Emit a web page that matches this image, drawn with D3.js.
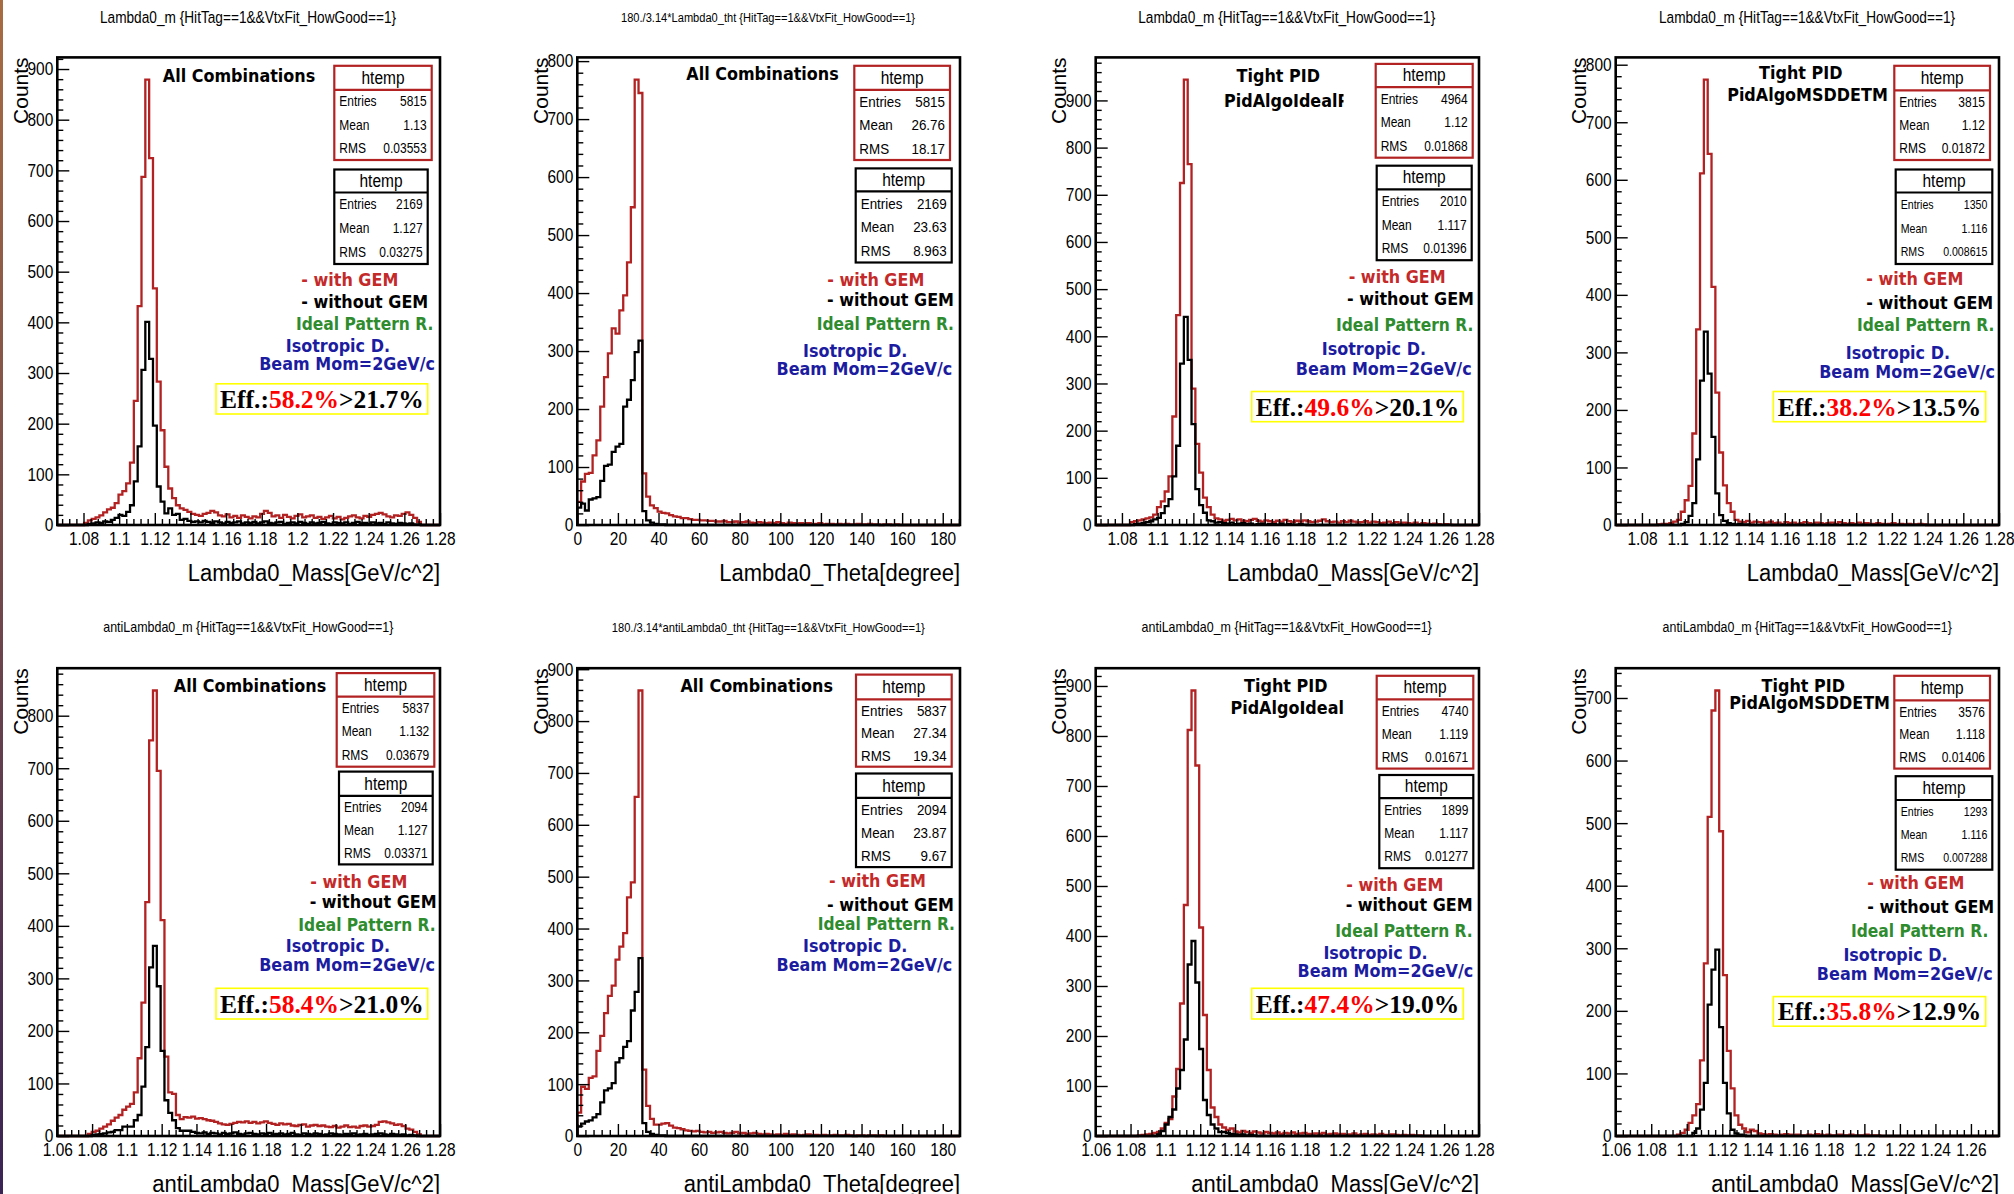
<!DOCTYPE html>
<html>
<head>
<meta charset="utf-8">
<script src="https://cdnjs.cloudflare.com/ajax/libs/d3/7.8.5/d3.min.js"></script>
<style>
  body { margin: 0; background: #fff; }
  svg { display: block; }
</style>
</head>
<body>
<svg id="chart"></svg>
<script>
// Bin contents (100 bins per histogram).
// Missing trailing bins are empty.
var nBins = 100;

// Lambda0 mass, all combinations
var lamAllGem = [0,0,0,0,0,0,0,4,9,12, 15,19,25,31,34,43,60,67,82,123,
  245,432,687,879,724,467,283,187,115,72, 53,39,33,30,26,22,20,18,22,24,
  28,25,19,17,21,15,18,14,19,16, 13,17,15,22,28,24,17,19,14,20,
  16,13,18,21,15,17,19,14,16,12, 15,18,13,16,11,14,17,19,15,13,
  18,16,20,22,24,21,17,15,19,18, 22,25,20,14,6];
var lamAllNoGem = [0,0,0,0,0,0,0,0,2,3, 5,4,7,6,10,14,20,18,26,39,
  86,155,306,401,328,196,76,46,23,33, 20,22,10,12,8,6,7,5,8,6,
  4,7,5,3,6,4,5,7,3,5, 4,6,3,5,7,4,3,5,6,2,
  4,5,3,6,4,2,5,3,4,6, 3,2,5,4,3,5,2,4,6,3,
  4,2,5,3,4,2,5,3,2,4, 3,2,3,1,1];

// Lambda0 theta, all combinations
var thtAllGem = [40,75,88,90,120,146,204,255,296,339, 330,370,396,453,548,768,745,89,49,34,
  29,23,21,20,17,15,14,12,12,10, 9,9,8,8,7,7,6,6,7,5,
  5,6,4,5,6,4,3,5,4,3, 4,3,5,3,2,4,3,2,3,2,
  3,2,2,3,1,2,2,1,2,1, 2,1,1,2,1,1,2,1,1,0, 1,1,0,1];
var thtAllNoGem = [30,37,25,44,46,48,76,102,104,126, 135,140,204,216,250,298,318,24,8,4, 2,1,1];

// Lambda0 mass, tight PID (ideal)
var lamIdGem = [0,0,0,0,0,0,0,0,0,6, 8,10,12,14,16,22,38,50,71,103,
  230,445,725,944,765,289,172,111,58,38, 22,14,12,9,11,13,10,12,9,8,
  11,13,9,7,10,8,6,9,7,11, 8,6,9,7,10,8,6,7,9,12,
  8,6,7,5,8,6,9,7,5,6, 8,5,7,6,4,5,7,4,6,3,
  5,4,3,5,2,4,3,2,3,2, 1,2,1];
var lamIdNoGem = [0,0,0,0,0,0,0,0,0,0, 2,3,4,6,8,12,15,25,40,55,
  103,168,342,441,350,214,76,42,26,10, 8,5,6,4,3,5,2,3,4,2,
  3,1,2,3,1,2,2,1,3,1, 2,1,1,2,1];

// Lambda0 mass, tight PID (MSDDETM)
var lamMsGem = [0,0,0,0,0,0,0,0,0,0, 0,1,2,2,3,6,9,23,43,68,
  159,340,611,774,645,414,230,126,69,38, 23,9,6,5,7,4,6,5,3,4,
  6,3,4,2,5,3,4,2,3,5, 3,2,4,3,2,3,4,2,5,3,
  2,3,2,4,2,3,1,2,3,2, 1,2,3,1,2,1,2,1,1,2, 1];
var lamMsNoGem = [0,0,0,0,0,0,0,0,0,0, 0,0,0,0,0,0,0,2,5,16,
  38,114,251,336,263,153,55,17,7,3, 2,1,2,1,1];

// antiLambda0 mass, all combinations
var antiAllGem = [0,0,0,0,0,0,0,0,4,8, 10,14,18,22,29,35,40,50,56,61,
  83,148,254,445,753,848,695,411,151,83, 80,40,32,36,35,37,33,34,32,30,
  29,27,24,22,21,23,25,27,26,28, 25,27,24,26,28,25,23,21,24,22,
  23,20,19,21,22,18,20,21,19,20, 18,17,19,16,18,20,17,18,16,19,
  20,18,19,21,27,28,26,24,21,22, 19,14,12,8,3];
var antiAllNoGem = [0,0,0,0,0,0,0,0,0,2, 3,4,5,7,8,11,11,18,18,18,
  30,40,94,169,321,362,285,162,68,44, 30,15,10,10,10,8,6,5,7,4,
  6,5,3,6,4,5,7,4,3,5, 6,4,3,5,4,6,3,4,5,3,
  4,6,3,2,5,4,3,5,4,2, 3,5,4,3,2,4,3,5,2,3,
  4,2,3,4,5,3,2,4,3,2, 3,1,2,1];

// antiLambda0 theta, all combinations
var thtAntiGem = [45,95,91,112,115,164,193,237,270,290, 340,365,391,460,489,654,859,128,58,33,
  22,22,24,25,20,16,15,13,11,10, 9,10,8,7,8,6,7,8,6,5,
  6,8,5,6,4,5,6,4,3,4, 3,2,3,2,4,2,3,2,1,2,
  3,1,2,1,2,1,1,2,1,1, 2,1,0,1,1,0,1,1,0,1];
var thtAntiNoGem = [18,24,28,30,36,42,65,88,92,102, 142,150,172,183,242,278,343,25,8,4, 2,1,1];

// antiLambda0 mass, tight PID (ideal)
var antiIdGem = [0,0,0,0,0,0,0,0,0,0, 0,1,2,3,4,6,8,15,26,34,
  79,134,265,462,812,891,741,417,242,132, 57,38,23,17,12,15,9,7,10,8,
  6,9,7,5,8,6,5,7,4,6, 5,7,4,5,6,4,3,5,4,6,
  3,4,5,3,4,2,3,5,2,3, 4,2,3,2,4,2,1,3,2,1, 2,1,2,1,1];
var antiIdNoGem = [0,0,0,0,0,0,0,0,0,0, 0,0,0,0,0,0,3,10,23,38,
  53,95,132,193,343,390,307,174,72,42, 23,15,8,8,6,4,3,2,3,1, 2,1];

// antiLambda0 mass, tight PID (MSDDETM)
var antiMsGem = [0,0,0,0,0,0,0,0,0,0, 0,0,0,0,0,0,2,5,10,21,
  33,51,121,276,510,680,712,487,257,136, 76,33,18,12,6,10,8,4,3,2,
  3,2,1,2,3,2,1,2,1,1, 2,1,3,2,1,2,1,1,2,1, 1,2,1,1,1,2,1,1,1];
var antiMsNoGem = [0,0,0,0,0,0,0,0,0,0, 0,0,0,0,0,0,0,0,0,0,
  5,12,42,85,210,266,298,174,85,36, 10,4,2,1];

// Histogram x ranges
var massTop = [1.0653, 1.28];
var massAnti = [1.06, 1.28];
var massAnti8 = [1.06, 1.2758];
var thetaRange = [0, 188.5];

// Texts
var titles = [
  "Lambda0_m {HitTag==1&&VtxFit_HowGood==1}",
  "180./3.14*Lambda0_tht {HitTag==1&&VtxFit_HowGood==1}",
  "Lambda0_m {HitTag==1&&VtxFit_HowGood==1}",
  "Lambda0_m {HitTag==1&&VtxFit_HowGood==1}",
  "antiLambda0_m {HitTag==1&&VtxFit_HowGood==1}",
  "180./3.14*antiLambda0_tht {HitTag==1&&VtxFit_HowGood==1}",
  "antiLambda0_m {HitTag==1&&VtxFit_HowGood==1}",
  "antiLambda0_m {HitTag==1&&VtxFit_HowGood==1}"];
var xLabels = ["Lambda0_Mass[GeV/c^2]", "Lambda0_Theta[degree]", "Lambda0_Mass[GeV/c^2]", "Lambda0_Mass[GeV/c^2]",
  "antiLambda0_Mass[GeV/c^2]", "antiLambda0_Theta[degree]", "antiLambda0_Mass[GeV/c^2]", "antiLambda0_Mass[GeV/c^2]"];
var cutAll = ["All Combinations"];
var cutIdealClipped = ["Tight PID", "PidAlgoIdealP"];
var cutIdeal = ["Tight PID", "PidAlgoIdeal"];
var cutMs = ["Tight PID", "PidAlgoMSDDETM"];
var statNames = ["Entries", "Mean", "RMS"];
var statsGem = [
  ["5815", "1.13", "0.03553"], ["5815", "26.76", "18.17"], ["4964", "1.12", "0.01868"], ["3815", "1.12", "0.01872"],
  ["5837", "1.132", "0.03679"], ["5837", "27.34", "19.34"], ["4740", "1.119", "0.01671"], ["3576", "1.118", "0.01406"]];
var statsNoGem = [
  ["2169", "1.127", "0.03275"], ["2169", "23.63", "8.963"], ["2010", "1.117", "0.01396"], ["1350", "1.116", "0.008615"],
  ["2094", "1.127", "0.03371"], ["2094", "23.87", "9.67"], ["1899", "1.117", "0.01277"], ["1293", "1.116", "0.007288"]];
var effGem = ["58.2%", null, "49.6%", "38.2%", "58.4%", null, "47.4%", "35.8%"];
var effNoGem = ["21.7%", null, "20.1%", "13.5%", "21.0%", null, "19.0%", "12.9%"];
var legendText = ["- with GEM", "- without GEM", "Ideal Pattern R.", "Isotropic D.", "Beam Mom=2GeV/c"];

// Styles
var redLine = "#b22222";
var legendColor = ["#c42a2a", "#000", "#2e8b2e", "#1c1ca0", "#1c1ca0"];
var legendSize = [16, 16, 15.5, 16, 16];
var sansFont = "'Liberation Sans', Arial, sans-serif";
var boldFont = "'DejaVu Sans', Verdana, sans-serif";
var serifFont = "'Liberation Serif', 'Times New Roman', serif";
var sy = 1.15;

// Histograms per panel
var panels = [
  { gem: lamAllGem, noGem: lamAllNoGem, xr: massTop, theta: false, cuts: cutAll },
  { gem: thtAllGem, noGem: thtAllNoGem, xr: thetaRange, theta: true, cuts: cutAll },
  { gem: lamIdGem, noGem: lamIdNoGem, xr: massTop, theta: false, cuts: cutIdealClipped },
  { gem: lamMsGem, noGem: lamMsNoGem, xr: massTop, theta: false, cuts: cutMs },
  { gem: antiAllGem, noGem: antiAllNoGem, xr: massAnti, theta: false, cuts: cutAll },
  { gem: thtAntiGem, noGem: thtAntiNoGem, xr: thetaRange, theta: true, cuts: cutAll },
  { gem: antiIdGem, noGem: antiIdNoGem, xr: massAnti, theta: false, cuts: cutIdeal },
  { gem: antiMsGem, noGem: antiMsNoGem, xr: massAnti8, theta: false, cuts: cutMs }
];

// Positions of frames, boxes and labels (page pixels)
var topY = 57.4, topH = 467.6, botY = 668.2, botH = 467.8;
var layout = [
  { fx: 57.3, fw: 382.7, fy: topY, fh: topH, title: [248, 17.2, 296],
    cut: [[239, 75.4, "middle"]],
    red: [334.3, 65.8, 431.7, 160, 89.9], blk: [334.3, 169.5, 427.7, 264, 192.5], sfs: [12, 12],
    leg: [[398.3, 279.3], [428.3, 301.1], [433.3, 323.7], [390, 345.5], [435, 363.9]],
    eff: [216, 383.8, 427.7, 414] },
  { fx: 577.3, fw: 382.7, fy: topY, fh: topH, title: [768, 17.2, 294],
    cut: [[762.5, 73.9, "middle"]],
    red: [854.3, 65.8, 950, 160, 89.9], blk: [855.7, 168.4, 951.7, 262.5, 191.3], sfs: [13.4, 13.4],
    leg: [[924.3, 279.3], [954, 299.6], [954, 323.7], [907.3, 350.1], [952.3, 368.9]],
    eff: null },
  { fx: 1095.7, fw: 383.3, fy: topY, fh: topH, title: [1286.7, 17.2, 297],
    cut: [[1278.3, 75.4, "middle"], [1224, 100.6, "start", 1343.5]],
    red: [1375.7, 63.9, 1472.7, 157.7, 87.2], blk: [1376.7, 165.7, 1471.7, 260.2, 189.4], sfs: [12, 12],
    leg: [[1445.7, 276.7], [1474, 298.1], [1473.3, 324.9], [1426, 349], [1471.7, 368.1]],
    eff: [1251.7, 391.5, 1463.3, 421.7] },
  { fx: 1615.7, fw: 383.3, fy: topY, fh: topH, title: [1807, 17.2, 296],
    cut: [[1800.8, 72.7, "middle"], [1807.5, 94.1, "middle"]],
    red: [1894.3, 65.8, 1990, 160, 90.3], blk: [1895.7, 169.5, 1992.3, 264, 192.5], sfs: [12, 10.6],
    leg: [[1963.3, 278.2], [1993.3, 302.3], [1994.3, 324.9], [1950, 352.4], [1995, 371.2]],
    eff: [1773.3, 391.5, 1985.7, 421.7] },
  { fx: 57.3, fw: 382.7, fy: botY, fh: botH, title: [248.3, 627.3, 290],
    cut: [[250, 685.2, "middle"]],
    red: [336.7, 673.1, 434.3, 766.7, 696.6], blk: [339, 771.6, 432.7, 864.4, 795.9], sfs: [12, 12],
    leg: [[407.3, 881.5], [436.7, 901.9], [435.7, 924.7], [390, 945.9], [435, 964.8]],
    eff: [216, 988.3, 427.7, 1019] },
  { fx: 577.3, fw: 382.7, fy: botY, fh: botH, title: [768.3, 627.3, 313],
    cut: [[756.7, 685.2, "middle"]],
    red: [856, 674.6, 951.7, 766.7, 699.3], blk: [856, 773.5, 951.7, 867.1, 797.8], sfs: [13.4, 13.4],
    leg: [[926, 880.3], [954, 905], [955, 923.9], [907.3, 945.9], [952.3, 964.8]],
    eff: null },
  { fx: 1095.7, fw: 383.3, fy: botY, fh: botH, title: [1286.7, 627.3, 290],
    cut: [[1285.8, 685.2, "middle"], [1287.2, 708, "middle"]],
    red: [1376.7, 675.8, 1473.3, 768.6, 699.3], blk: [1379.3, 775, 1473.3, 868.2, 798.1], sfs: [12, 12],
    leg: [[1443.3, 884.1], [1472.7, 905], [1472.7, 930.7], [1427.7, 952.3], [1473.3, 970.5]],
    eff: [1251.7, 988.3, 1463.3, 1019] },
  { fx: 1615.7, fw: 383.3, fy: botY, fh: botH, title: [1807.2, 627.3, 289],
    cut: [[1803.3, 685.2, "middle"], [1809.7, 703, "middle"]],
    red: [1894.3, 675.8, 1990, 768.6, 700.4], blk: [1895.7, 776.2, 1992.3, 869.7, 800], sfs: [12, 10.6],
    leg: [[1964.3, 883], [1994.3, 906.9], [1988.3, 930.7], [1947.7, 955], [1992.7, 973.9]],
    eff: [1773.3, 996.6, 1985.7, 1026.2] }
];

var svg = d3.select("#chart").attr("width", 2014).attr("height", 1194);
svg.append("rect").attr("width", 2014).attr("height", 1194).attr("fill", "#fff");

// thin slide edge on the left
var grad = svg.append("defs").append("linearGradient").attr("id", "edge")
  .attr("x1", 0).attr("y1", 0).attr("x2", 0).attr("y2", 1);
grad.append("stop").attr("offset", "0%").attr("stop-color", "#a86c42");
grad.append("stop").attr("offset", "100%").attr("stop-color", "#3a2454");
svg.append("rect").attr("width", 3).attr("height", 1194).attr("fill", "url(#edge)");

// Text with the vertical stretch of the original canvas
function label(g, x, y, str, o) {
  return g.append("text")
    .attr("transform", "translate(" + x + "," + y + ") scale(1," + (o.sy || sy) + ")")
    .attr("text-anchor", o.anchor || "start")
    .attr("dominant-baseline", "central")
    .style("font-family", o.font || sansFont)
    .style("font-size", o.size + "px")
    .style("font-weight", o.weight || "normal")
    .attr("fill", o.color || "#000")
    .text(str);
}

function tickRange(lo, hi, step) {
  var a = Math.ceil(lo / step - 1e-6), b = Math.floor(hi / step + 1e-6);
  return d3.range(a, b + 1).map(function (k) { return +(k * step).toFixed(6); });
}

function drawHist(g, counts, x, y, lo, hi, color) {
  var w = (hi - lo) / nBins;
  var pts = [[lo, 0]];
  for (var i = 0; i < nBins; i++) pts.push([lo + i * w, counts[i] || 0]);
  pts.push([hi, counts[nBins - 1] || 0], [hi, 0]);
  var line = d3.line()
    .x(function (d) { return x(d[0]); })
    .y(function (d) { return y(d[1]); })
    .curve(d3.curveStepAfter);
  g.append("path").attr("d", line(pts))
    .attr("fill", "none").attr("stroke", color).attr("stroke-width", 2.3)
    .attr("stroke-linejoin", "miter");
}

function statBox(g, b, vals, color, fs) {
  g.append("rect").attr("x", b[0]).attr("y", b[1])
    .attr("width", b[2] - b[0]).attr("height", b[3] - b[1])
    .attr("fill", "#fff").attr("stroke", color).attr("stroke-width", 2.2);
  g.append("line").attr("x1", b[0]).attr("x2", b[2]).attr("y1", b[4]).attr("y2", b[4])
    .attr("stroke", color).attr("stroke-width", 2.2);
  label(g, (b[0] + b[2]) / 2, (b[1] + b[4]) / 2, "htemp", { anchor: "middle", size: 15.5 });
  var rh = (b[3] - b[4]) / 3;
  statNames.forEach(function (n, k) {
    var cy = b[4] + rh * (k + 0.5);
    label(g, b[0] + 5, cy, n, { size: fs });
    label(g, b[2] - 5, cy, vals[k], { anchor: "end", size: fs });
  });
}

function styleTicks(ax) {
  ax.select(".domain").remove();
  ax.selectAll(".tick line").attr("stroke", "#000").attr("stroke-width", 1.4);
}

panels.forEach(function (p, i) {
  var L = layout[i];
  var g = svg.append("g");
  var bottom = L.fy + L.fh, right = L.fx + L.fw;

  var x = d3.scaleLinear().domain(p.xr).range([L.fx, right]);
  var ymax = 1.05 * d3.max(p.gem);
  var y = d3.scaleLinear().domain([0, ymax]).range([bottom, L.fy]);

  // title
  var t = label(g, L.title[0], L.title[1], titles[i], { anchor: "middle", size: 13, sy: 1.18 });
  var tl = t.node().getComputedTextLength();
  t.style("font-size", (13 * L.title[2] / tl) + "px");

  // histograms and frame
  drawHist(g, p.gem, x, y, p.xr[0], p.xr[1], redLine);
  g.append("rect").attr("x", L.fx).attr("y", L.fy).attr("width", L.fw).attr("height", L.fh)
    .attr("fill", "none").attr("stroke", "#000").attr("stroke-width", 2.6);
  drawHist(g, p.noGem, x, y, p.xr[0], p.xr[1], "#000");

  // x axis
  var xStep = p.theta ? 20 : 0.02;
  var xMaj = tickRange(p.xr[0], p.xr[1], xStep);
  var xMin = tickRange(p.xr[0], p.xr[1], xStep / 5).filter(function (v) {
    return xMaj.indexOf(v) < 0;
  });
  var fmt = function (d) { return String(+d.toFixed(2)); };
  var axX = g.append("g").attr("transform", "translate(0," + bottom + ")")
    .call(d3.axisBottom(x).tickValues(xMaj).tickSize(-12).tickFormat(fmt));
  styleTicks(axX);
  axX.selectAll(".tick text")
    .attr("y", null).attr("dy", null)
    .attr("dominant-baseline", "central")
    .attr("transform", "translate(0,14.5) scale(1," + sy + ")")
    .attr("fill", "#000")
    .style("font-family", sansFont).style("font-size", "15.5px");
  var axXm = g.append("g").attr("transform", "translate(0," + bottom + ")")
    .call(d3.axisBottom(x).tickValues(xMin).tickSize(-6).tickFormat(""));
  styleTicks(axXm);

  // y axis
  var yMaj = tickRange(0, ymax, 100);
  var yMin = tickRange(0, ymax, 20).filter(function (v) { return yMaj.indexOf(v) < 0; });
  var axY = g.append("g").attr("transform", "translate(" + L.fx + ",0)")
    .call(d3.axisLeft(y).tickValues(yMaj).tickSize(-12).tickFormat(d3.format("d")));
  styleTicks(axY);
  axY.selectAll(".tick text")
    .attr("x", null).attr("dy", null)
    .attr("dominant-baseline", "central")
    .attr("transform", "translate(-4,0) scale(1," + sy + ")")
    .attr("fill", "#000")
    .style("font-family", sansFont).style("font-size", "15.5px");
  var axYm = g.append("g").attr("transform", "translate(" + L.fx + ",0)")
    .call(d3.axisLeft(y).tickValues(yMin).tickSize(-6).tickFormat(""));
  styleTicks(axYm);

  // axis titles
  g.append("text")
    .attr("transform", "translate(" + (L.fx - 29.5) + "," + L.fy + ") rotate(-90)")
    .attr("text-anchor", "end")
    .style("font-family", sansFont).style("font-size", "21px")
    .attr("fill", "#000")
    .text("Counts");
  label(g, right, bottom + 47.8, xLabels[i], { anchor: "end", size: 22, sy: 1.1 });

  // selection labels
  p.cuts.forEach(function (c, k) {
    var pos = L.cut[k];
    var tx = label(g, pos[0], pos[1], c, { anchor: pos[2], size: 16, font: boldFont, weight: "bold" });
    if (pos[3]) {
      var cid = "clip" + i + "_" + k;
      svg.append("clipPath").attr("id", cid).append("rect")
        .attr("x", pos[0] - 5).attr("y", pos[1] - 20).attr("width", pos[3] - pos[0] + 5).attr("height", 40);
      g.append("g").attr("clip-path", "url(#" + cid + ")").node().appendChild(tx.node());
    }
  });

  // stats boxes
  statBox(g, L.red, statsGem[i], redLine, L.sfs[0]);
  statBox(g, L.blk, statsNoGem[i], "#000", L.sfs[1]);

  // legend lines
  legendText.forEach(function (s, k) {
    label(g, L.leg[k][0], L.leg[k][1], s, {
      anchor: "end", size: legendSize[k], font: boldFont, weight: "bold", color: legendColor[k]
    });
  });

  // efficiency box
  if (L.eff) {
    var e = L.eff;
    g.append("rect").attr("x", e[0]).attr("y", e[1]).attr("width", e[2] - e[0]).attr("height", e[3] - e[1])
      .attr("fill", "#fff").attr("stroke", "#ffff00").attr("stroke-width", 1.6);
    var et = g.append("text")
      .attr("x", (e[0] + e[2]) / 2).attr("y", (e[1] + e[3]) / 2)
      .attr("text-anchor", "middle").attr("dominant-baseline", "central")
      .style("font-family", serifFont).style("font-size", "25.5px").style("font-weight", "bold");
    et.append("tspan").attr("fill", "#000").text("Eff.:");
    et.append("tspan").attr("fill", "#ff0000").text(effGem[i]);
    et.append("tspan").attr("fill", "#000").text(">" + effNoGem[i]);
  }
});
</script>
</body>
</html>
